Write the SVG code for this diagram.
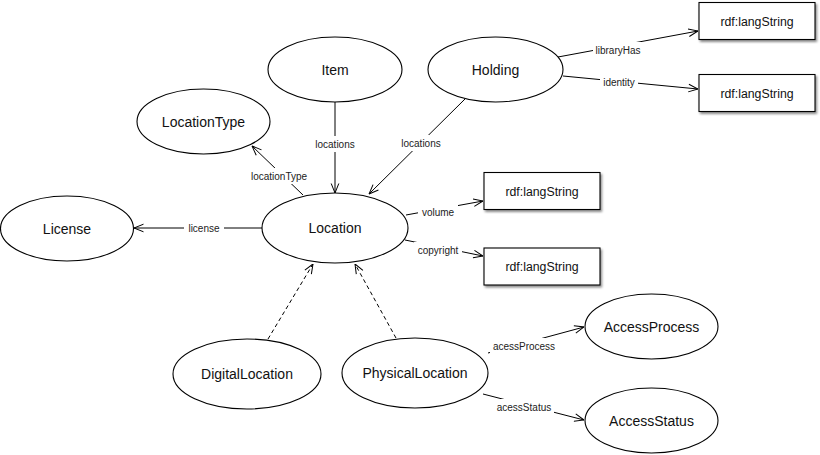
<svg xmlns="http://www.w3.org/2000/svg" width="820" height="455" viewBox="0 0 820 455">
<defs>
<style>
.n ellipse{fill:#fff;stroke:#000;stroke-width:1.1}
.n rect{fill:#fff;stroke:#000;stroke-width:1.1}
.t{font-family:"Liberation Sans",Arial,Helvetica,sans-serif;font-size:14px;fill:#111;text-anchor:middle}
.r{font-size:12.3px}
.e line{stroke:#000;stroke-width:1;fill:none;marker-end:url(#arr)}
.e line.d{stroke-dasharray:4,3}
.e rect{fill:#fff;stroke:none}
.l{font-family:"Liberation Sans",Arial,Helvetica,sans-serif;font-size:10px;fill:#222;text-anchor:middle}
</style>
<marker id="arr" viewBox="0 0 10 10" refX="10" refY="5" markerWidth="10" markerHeight="10" markerUnits="userSpaceOnUse" orient="auto">
<path d="M0.5,1.2 L10,5 L0.5,8.8" fill="none" stroke="#000" stroke-width="1"/>
</marker>
<filter id="sh" x="-10%" y="-20%" width="125%" height="150%">
<feDropShadow dx="1.5" dy="2" stdDeviation="1.2" flood-color="#000" flood-opacity="0.45"/>
</filter>
</defs>

<g id="connectors" class="e">
<line x1="335" y1="102" x2="335" y2="193"/>
<line x1="465" y1="99" x2="369" y2="194"/>
<line x1="303" y1="195" x2="252" y2="146"/>
<line x1="262" y1="228" x2="134" y2="228"/>
<line x1="558" y1="57" x2="698" y2="31"/>
<line x1="563" y1="76" x2="698" y2="89"/>
<line x1="406" y1="215" x2="483" y2="201"/>
<line x1="405" y1="240" x2="483" y2="256"/>
<line class="d" x1="268" y1="339" x2="313" y2="264"/>
<line class="d" x1="396" y1="338" x2="355" y2="264"/>
<line x1="488" y1="353" x2="584" y2="327"/>
<line x1="483" y1="394" x2="584" y2="420"/>
<rect x="309" y="136" width="52" height="16"/>
<rect x="395" y="135" width="52" height="16"/>
<rect x="247" y="168" width="64" height="16"/>
<rect x="184" y="220" width="40" height="16"/>
<rect x="593" y="42" width="50" height="16"/>
<rect x="600" y="74" width="38" height="16"/>
<rect x="418" y="204" width="40" height="16"/>
<rect x="414" y="242" width="48" height="16"/>
<rect x="490" y="338" width="68" height="16"/>
<rect x="494" y="399" width="60" height="16"/>
<text class="l" x="335" y="147.5">locations</text>
<text class="l" x="421" y="146.5">locations</text>
<text class="l" x="279" y="179.5">locationType</text>
<text class="l" x="204" y="231.5">license</text>
<text class="l" x="618" y="53.5">libraryHas</text>
<text class="l" x="619" y="85.5">identity</text>
<text class="l" x="438" y="215.5">volume</text>
<text class="l" x="438" y="253.5">copyright</text>
<text class="l" x="524" y="349.5">acessProcess</text>
<text class="l" x="524" y="410.5">acessStatus</text>
</g>

<g id="Item" class="n"><ellipse cx="335" cy="69.5" rx="67" ry="32.5"/><text class="t" x="335" y="74.5">Item</text></g>
<g id="Holding" class="n"><ellipse cx="495.5" cy="69.5" rx="67.5" ry="32.5"/><text class="t" x="495.5" y="74.5">Holding</text></g>
<g id="LocationType" class="n"><ellipse cx="203.5" cy="121.5" rx="66.5" ry="32.5"/><text class="t" x="203.5" y="126.5">LocationType</text></g>
<g id="License" class="n"><ellipse cx="67" cy="228.5" rx="66.5" ry="32.5"/><text class="t" x="67" y="233.5">License</text></g>
<g id="Location" class="n"><ellipse cx="335" cy="228" rx="73" ry="35"/><text class="t" x="335" y="233">Location</text></g>
<g id="DigitalLocation" class="n"><ellipse cx="247" cy="374" rx="74" ry="35"/><text class="t" x="247" y="379">DigitalLocation</text></g>
<g id="PhysicalLocation" class="n"><ellipse cx="415" cy="373" rx="73" ry="35"/><text class="t" x="415" y="378">PhysicalLocation</text></g>
<g id="AccessProcess" class="n"><ellipse cx="651.5" cy="326.5" rx="66.5" ry="32.5"/><text class="t" x="651.5" y="331.5">AccessProcess</text></g>
<g id="AccessStatus" class="n"><ellipse cx="651.5" cy="420.5" rx="66.5" ry="32.5"/><text class="t" x="651.5" y="425.5">AccessStatus</text></g>
<g id="rdf1" class="n"><rect x="699" y="2.5" width="116" height="37" filter="url(#sh)"/><text class="t r" x="757" y="25.5">rdf:langString</text></g>
<g id="rdf2" class="n"><rect x="699" y="74.5" width="116" height="37" filter="url(#sh)"/><text class="t r" x="757" y="97.5">rdf:langString</text></g>
<g id="rdf3" class="n"><rect x="484" y="172.5" width="116" height="37" filter="url(#sh)"/><text class="t r" x="542" y="195.5">rdf:langString</text></g>
<g id="rdf4" class="n"><rect x="484" y="248" width="116" height="37" filter="url(#sh)"/><text class="t r" x="542" y="271">rdf:langString</text></g>
</svg>
